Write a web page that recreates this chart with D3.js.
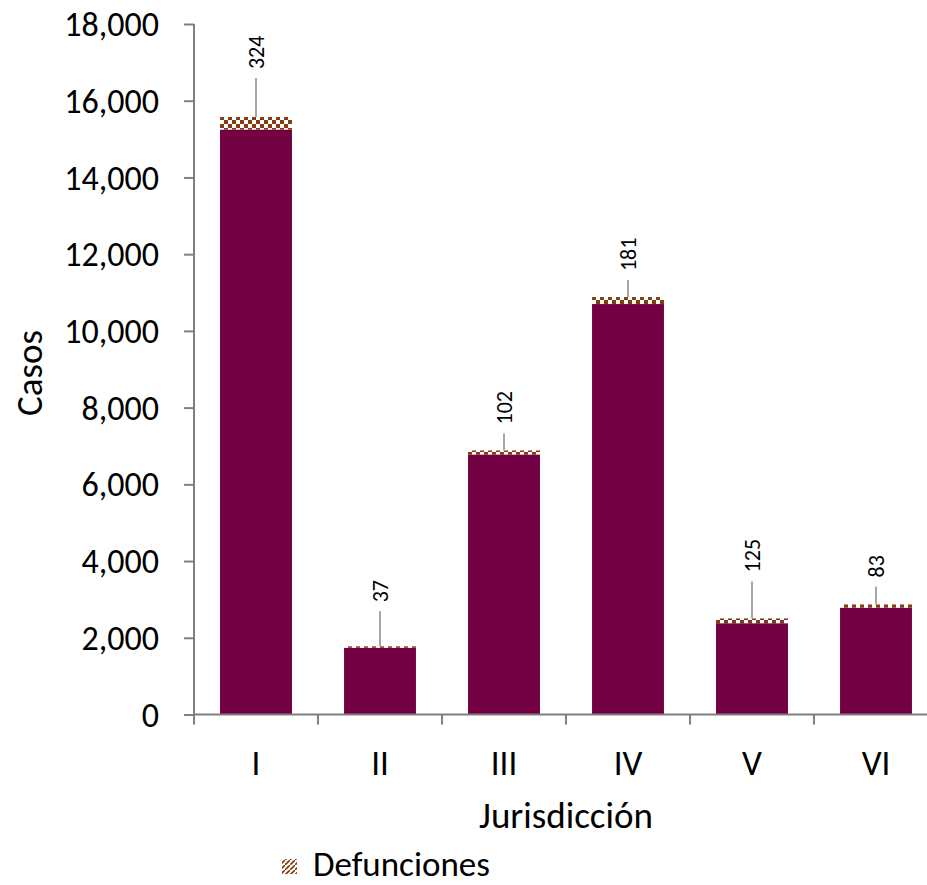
<!DOCTYPE html>
<html>
<head>
<meta charset="utf-8">
<script src="https://cdn.jsdelivr.net/npm/d3@7"></script>
<style>
  body { margin: 0; background: #fff; }
  svg text { font-family: Carlito, Calibri, Lato, sans-serif; fill: #000; }
</style>
</head>
<body>
<div id="chart"></div>
<script>
// Data
var jurisdicciones = ["I", "II", "III", "IV", "V", "VI"];
var casos = [15250, 1740, 6780, 10700, 2380, 2785];
var defunciones = [324, 37, 102, 181, 125, 83];
var yTicks = [0, 2000, 4000, 6000, 8000, 10000, 12000, 14000, 16000, 18000];

// Set width and height
var svgWidth = 927;
var svgHeight = 885;
var plotLeft = 194, plotRight = 938, plotTop = 24, plotBottom = 714.5;

// label distance above each stacked bar (px), as placed in the original
var labelGap = [48, 44, 26, 26, 46, 27];

var svg = d3.select("#chart").append("svg")
            .attr("width", svgWidth)
            .attr("height", svgHeight);

// Patterns for the deaths segment and the legend swatch
var defs = svg.append("defs");
var checker = defs.append("pattern")
                  .attr("id", "checker")
                  .attr("patternUnits", "userSpaceOnUse")
                  .attr("width", 8).attr("height", 8);
checker.append("rect").attr("width", 8).attr("height", 8).attr("fill", "#fff");
checker.append("rect").attr("width", 4).attr("height", 4).attr("fill", "#843c0c");
checker.append("rect").attr("x", 4).attr("y", 4).attr("width", 4).attr("height", 4).attr("fill", "#843c0c");

var diag = defs.append("pattern")
               .attr("id", "diag")
               .attr("patternUnits", "userSpaceOnUse")
               .attr("width", 5).attr("height", 5);
diag.append("rect").attr("width", 5).attr("height", 5).attr("fill", "#fff");
diag.append("path").attr("d", "M-1,6 L6,-1").attr("stroke", "#843c0c").attr("stroke-width", 1.6);

// Scales
var x = d3.scaleBand()
          .domain(jurisdicciones)
          .range([plotLeft, plotRight])
          .paddingInner(0.42)
          .paddingOuter(0.21);
var y = d3.scaleLinear().domain([0, 18000]).range([plotBottom, plotTop]);

var rows = jurisdicciones.map(function(j, i) {
  return { name: j, casos: casos[i], def: defunciones[i], gap: labelGap[i] };
});

// Casos bars
svg.selectAll("rect.casos")
   .data(rows)
   .enter()
   .append("rect")
   .attr("class", "casos")
   .attr("x", function(d) { return x(d.name); })
   .attr("y", function(d) { return y(d.casos); })
   .attr("width", x.bandwidth())
   .attr("height", function(d) { return y(0) - y(d.casos); })
   .attr("fill", "#720042");

// Defunciones stacked on top
svg.selectAll("rect.def")
   .data(rows)
   .enter()
   .append("rect")
   .attr("class", "def")
   .attr("x", function(d) { return x(d.name); })
   .attr("y", function(d) { return y(d.casos + d.def); })
   .attr("width", x.bandwidth())
   .attr("height", function(d) { return y(d.casos) - y(d.casos + d.def); })
   .attr("fill", "url(#checker)");

// Leader lines and labels
svg.selectAll("line.leader")
   .data(rows)
   .enter()
   .append("line")
   .attr("class", "leader")
   .attr("x1", function(d) { return x(d.name) + x.bandwidth() / 2; })
   .attr("x2", function(d) { return x(d.name) + x.bandwidth() / 2; })
   .attr("y1", function(d) { return y(d.casos + d.def); })
   .attr("y2", function(d) { return y(d.casos + d.def) - d.gap + 9; })
   .attr("stroke", "#a6a6a6")
   .attr("stroke-width", 2);

svg.selectAll("text.lbl")
   .data(rows)
   .enter()
   .append("text")
   .attr("class", "lbl")
   .attr("transform", function(d) {
     var cx = x(d.name) + x.bandwidth() / 2;
     var cy = y(d.casos + d.def) - d.gap;
     return "translate(" + (cx + 8) + "," + cy + ") rotate(-90)";
   })
   .attr("text-anchor", "start")
   .attr("font-size", "22px")
   .text(function(d) { return d.def; });

// Y axis
var yAxis = svg.append("g")
               .attr("transform", "translate(" + plotLeft + ",0)")
               .call(d3.axisLeft(y).tickValues(yTicks).tickSize(10).tickPadding(25)
                        .tickFormat(d3.format(",")));
yAxis.selectAll("path, line").attr("stroke", "#7f7f7f").attr("stroke-width", 2);
yAxis.select(".domain").attr("d", "M0," + plotTop + "V" + plotBottom);
yAxis.selectAll("text").attr("font-size", "34px").attr("dy", "0.34em").attr("fill", "#000");

// X axis: line, boundary ticks, category labels
var xAxis = svg.append("g")
               .attr("transform", "translate(0," + plotBottom + ")")
               .call(d3.axisBottom(x).tickSize(0).tickPadding(36));
xAxis.select(".domain").attr("d", "M" + plotLeft + ",0H" + plotRight).attr("stroke", "#7f7f7f").attr("stroke-width", 2);
xAxis.selectAll("text").attr("font-size", "35px").attr("fill", "#000");

var step = x.step();
svg.append("g")
   .selectAll("line")
   .data(d3.range(jurisdicciones.length + 1))
   .enter()
   .append("line")
   .attr("x1", function(i) { return plotLeft + i * step; })
   .attr("x2", function(i) { return plotLeft + i * step; })
   .attr("y1", plotBottom)
   .attr("y2", plotBottom + 10)
   .attr("stroke", "#7f7f7f")
   .attr("stroke-width", 2);

// Axis titles
svg.append("text")
   .attr("transform", "translate(42,373) rotate(-90)")
   .attr("text-anchor", "middle")
   .attr("font-size", "37px")
   .text("Casos");

svg.append("text")
   .attr("x", (plotLeft + plotRight) / 2)
   .attr("y", 828)
   .attr("text-anchor", "middle")
   .attr("font-size", "37px")
   .text("Jurisdicción");

// Legend
svg.append("rect")
   .attr("x", 282).attr("y", 859)
   .attr("width", 15).attr("height", 15)
   .attr("fill", "url(#diag)");
svg.append("text")
   .attr("x", 313)
   .attr("y", 876)
   .attr("font-size", "35px")
   .text("Defunciones");
</script>
</body>
</html>
